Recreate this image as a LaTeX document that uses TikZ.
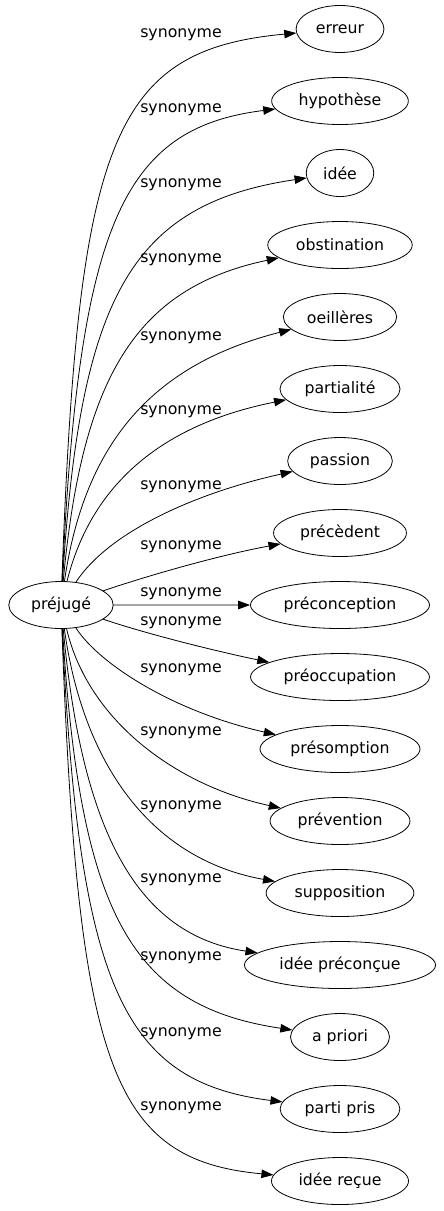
\documentclass[tikz,border=0pt]{standalone}
\usepackage{fontspec}
\setmainfont{DejaVu Sans}
\usepackage{tikz}
\usetikzlibrary{shapes,arrows.meta}
\tikzstyle{word} = [draw, ellipse, inner xsep=7bp, minimum height=47bp, font=\fontsize{15.8}{19}\selectfont]
\tikzstyle{lbl} = [inner sep=0pt, font=\fontsize{15.8}{19}\selectfont]

\begin{document}
\begin{tikzpicture}[x=1bp,y=-1bp,->,>={Triangle[length=12bp,width=8.5bp]},line width=0.8bp,node distance=72bp]
\useasboundingbox (0,0) rectangle (444,1211);

\node[word] (prejuge) at (61,605) {préjugé};
\node[word] (erreur) at (340,29) {erreur};
\node[word, below of = erreur] (hypothese) {hypothèse};
\node[word, below of = hypothese] (idee) {idée};
\node[word, below of = idee] (obstination) {obstination};
\node[word, below of = obstination] (oeilleres) {oeillères};
\node[word, below of = oeilleres] (partialite) {partialité};
\node[word, below of = partialite] (passion) {passion};
\node[word, below of = passion] (precedent) {précèdent};
\node[word, below of = precedent] (preconception) {préconception};
\node[word, below of = preconception] (preoccupation) {préoccupation};
\node[word, below of = preoccupation] (presomption) {présomption};
\node[word, below of = presomption] (prevention) {prévention};
\node[word, below of = prevention] (supposition) {supposition};
\node[word, below of = supposition] (ideeprec) {idée préconçue};
\node[word, below of = ideeprec] (apriori) {a priori};
\node[word, below of = apriori] (partipris) {parti pris};
\node[word, below of = partipris] (ideerecue) {idée reçue};

% upper half
\draw (prejuge) .. controls (78,140) and (112,50) .. (erreur);
\draw (prejuge) .. controls (79,225) and (122,128) .. (hypothese);
\draw (prejuge) .. controls (80,298) and (130,204) .. (idee);
\draw (prejuge) .. controls (82,378) and (135,288) .. (obstination);
\draw (prejuge) .. controls (85,440) and (155,364) .. (oeilleres);
\draw (prejuge) .. controls (95,470) and (180,421) .. (partialite);
\draw (prejuge) .. controls (110,530) and (200,492) .. (passion);
\draw (prejuge) .. controls (150,575) and (220,555) .. (precedent);
\draw (prejuge) -- (preconception);
% lower half
\draw (prejuge) .. controls (150,635) and (220,652) .. (preoccupation);
\draw (prejuge) .. controls (100,665) and (175,712) .. (presomption);
\draw (prejuge) .. controls (88,720) and (175,785) .. (prevention);
\draw (prejuge) .. controls (84,770) and (155,860) .. (supposition);
\draw (prejuge) .. controls (82,832) and (137,935) .. (ideeprec);
\draw (prejuge) .. controls (80,912) and (130,1006) .. (apriori);
\draw (prejuge) .. controls (79,985) and (122,1082) .. (partipris);
\draw (prejuge) .. controls (78,1068) and (112,1160) .. (ideerecue);

\node[lbl] (s1) at (181,35) {synonyme};
\node[lbl] (s2) at (181,110) {synonyme};
\node[lbl] (s3) at (181,185) {synonyme};
\node[lbl] (s4) at (181,260) {synonyme};
\node[lbl] (s5) at (181,338) {synonyme};
\node[lbl] (s6) at (181,412) {synonyme};
\node[lbl] (s7) at (181,487) {synonyme};
\node[lbl] (s8) at (181,547) {synonyme};
\node[lbl] (s9) at (181,594) {synonyme};
\node[lbl] (s10) at (181,623) {synonyme};
\node[lbl] (s11) at (181,670) {synonyme};
\node[lbl] (s12) at (181,733) {synonyme};
\node[lbl] (s13) at (181,807) {synonyme};
\node[lbl] (s14) at (181,880) {synonyme};
\node[lbl] (s15) at (181,958) {synonyme};
\node[lbl] (s16) at (181,1034) {synonyme};
\node[lbl] (s17) at (181,1108) {synonyme};
\end{tikzpicture}
\end{document}
